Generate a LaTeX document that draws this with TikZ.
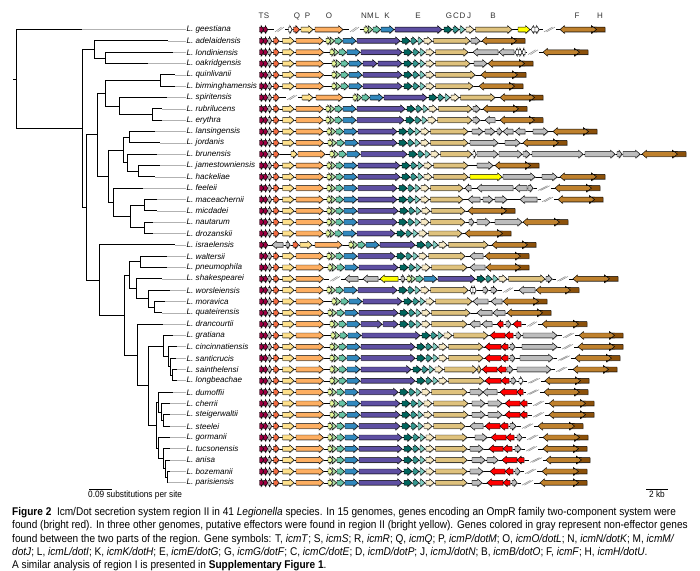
\documentclass[tikz,border=0pt]{standalone}
\usepackage{fontspec}
\setmainfont{Liberation Sans}
\newfontfamily\capfont[FakeStretch=0.9]{Liberation Sans}
\definecolor{cT}{HTML}{9E0142}
\definecolor{cR}{HTML}{BDBDBD}
\definecolor{cQ}{HTML}{F46D43}
\definecolor{cP}{HTML}{FEE08B}
\definecolor{cO}{HTML}{FDAE61}
\definecolor{cN}{HTML}{E6F598}
\definecolor{cM}{HTML}{ABDDA4}
\definecolor{cL}{HTML}{66C2A5}
\definecolor{cK}{HTML}{3288BD}
\definecolor{cE}{HTML}{5E4FA2}
\definecolor{cG}{HTML}{01665E}
\definecolor{cC}{HTML}{35978F}
\definecolor{cD}{HTML}{80CDC1}
\definecolor{cJ}{HTML}{F6E8C3}
\definecolor{cB}{HTML}{DFC27D}
\definecolor{cF}{HTML}{BF812D}
\definecolor{cH}{HTML}{8C510A}
\definecolor{cGr}{HTML}{BDBDBD}
\definecolor{cRed}{HTML}{FF0000}
\definecolor{cYel}{HTML}{FFFF00}
\tikzset{
  gene/.style={draw=black, line width=0.45pt, line join=miter,
    preaction={fill=black!35, transform canvas={xshift=0.6pt,yshift=-0.6pt}}},
  tree/.style={draw=black, line width=0.7pt},
  ext/.style={draw=black!30, line width=0.5pt},
  lab/.style={anchor=west, inner sep=0.5pt, font=\fontsize{8.1}{9}\selectfont\itshape},
  glab/.style={inner sep=0pt, text=black!80, font=\fontsize{8}{9}\selectfont},
  brkst/.style={draw=black!45, line width=0.5pt},
  bline/.style={draw=black, line width=0.35pt},
  capline/.style={anchor=base west, inner sep=0pt, font=\capfont\fontsize{11.2}{13}\selectfont},
  sbtext/.style={inner sep=0pt, font=\capfont\fontsize{9.2}{10}\selectfont}
}
\newcommand\gR[4]{\pgfmathsetmacro\gx{#3-min(4.5,0.6*(#3-#2))}%
  \path[gene,fill=#4] (#2,#1-2.4) -- (\gx,#1-2.4) -- (\gx,#1-3.9) -- (#3,#1) -- (\gx,#1+3.9) -- (\gx,#1+2.4) -- (#2,#1+2.4) -- cycle;}
\newcommand\gL[4]{\pgfmathsetmacro\gx{#2+min(4.5,0.6*(#3-#2))}%
  \path[gene,fill=#4] (#3,#1-2.4) -- (\gx,#1-2.4) -- (\gx,#1-3.9) -- (#2,#1) -- (\gx,#1+3.9) -- (\gx,#1+2.4) -- (#3,#1+2.4) -- cycle;}
\newcommand\baseln[3]{\draw[bline] (#2,#1) -- (#3,#1);}
\newcommand\brkm[3]{\fill[white] (#2-1,#1-1.2) rectangle (#3+1,#1+1.2);
  \draw[brkst] (#2,#1+2.4) -- (#3-2.5,#1-2.4) (#2+2.5,#1+2.4) -- (#3,#1-2.4);}
\newcommand\leftblk[1]{\gR{#1}{259.5}{263.6}{cT}\gR{#1}{263.6}{267.7}{cT}\gR{#1}{268}{271.6}{cR}%
  \gR{#1}{273.5}{279}{cQ}\gR{#1}{282.5}{294}{cP}\gR{#1}{296}{323.5}{cO}}
\newcommand\tsrq[1]{\gR{#1}{259.5}{263.6}{cT}\gR{#1}{263.6}{267.7}{cT}\gR{#1}{268}{271.6}{cR}\gR{#1}{273.5}{279}{cQ}}
\newcommand\nmlk[2]{\gR{#1}{#2}{#2+4.5}{cN}\gR{#1}{#2+4.5}{#2+8.5}{cM}\gR{#1}{#2+9}{#2+16.5}{cL}\gR{#1}{#2+17}{#2+30}{cK}}
\newcommand\gcdjb[3]{\gR{#1}{#2+2}{#2+10}{cG}\gR{#1}{#2+11}{#2+17}{cC}\gR{#1}{#2+18}{#2+23}{cD}\gR{#1}{#2+24}{#2+32}{cJ}\gR{#1}{#2+33.5}{#3}{cB}}
% y, m, Eend, Bend
\newcommand\midblk[4]{\nmlk{#1}{#2}\gR{#1}{#2+31}{#3}{cE}\gcdjb{#1}{#3}{#4}}
% y, m, Esplit, Eend, Bend
\newcommand\midblkS[5]{\nmlk{#1}{#2}\gR{#1}{#2+31}{#3}{cE}\gR{#1}{#3+1}{#4}{cE}\gcdjb{#1}{#4}{#5}}
\newcommand\fh[3]{\gL{#1}{#2}{#3-8.5}{cF}\gL{#1}{#3-8.5}{#3}{cH}}
\begin{document}
\begin{tikzpicture}[x=1pt,y=-1pt]
\useasboundingbox[fill=white] (0,0) rectangle (700,570);
% ---------------- tree ----------------
\foreach \i/\yy/\ex/\nm in {0/29.5/82/geestiana,1/40.8/168/adelaidensis,2/52.2/173/londiniensis,3/63.5/148/oakridgensis,
 4/74.8/175/quinlivanii,5/86.2/175/birminghamensis,6/97.5/167/spiritensis,7/108.8/162/rubrilucens,8/120.1/162/erythra,
 9/131.5/155/lansingensis,10/142.8/160/jordanis,11/154.1/157/brunensis,12/165.5/160/jamestowniensis,13/176.8/155/hackeliae,
 14/188.1/143/feeleii,15/199.5/157/maceachernii,16/210.8/157/micdadei,17/222.1/153/nautarum,18/233.4/153/drozanskii,
 19/244.8/175/israelensis,20/256.1/167/waltersii,21/267.4/167/pneumophila,22/278.8/162/shakespearei,23/290.1/170/worsleiensis,
 24/301.4/165/moravica,25/312.8/162/quateirensis,26/324.1/163/drancourtii,27/335.4/173/gratiana,28/346.7/177/cincinnatiensis,
 29/358.1/176/santicrucis,30/369.4/177/sainthelensi,31/380.7/177/longbeachae,32/392.1/173/dumoffii,33/403.4/170/cherrii,
 34/414.7/170/steigerwaltii,35/426.1/170/steelei,36/437.4/170/gormanii,37/448.7/170/tucsonensis,38/460.0/170/anisa,
 39/471.4/170/bozemanii,40/482.7/167/parisiensis}{
  \node[lab] (lab\i) at (186,\yy) {L. \nm};
  \coordinate (e\i) at (\ex,\yy);
  \draw[ext] (e\i) -- (lab\i.west);
}
\foreach \n/\xx/\yy in {root/16/79,n1/82/128.4,n2/94/49.4,n2b/105/57.9,n3/86/207.4,n4/97/134.7,n5/105/93.3,n5a/160/80.5,
 n6/119/106,nb/152/114.5,n7/108/176.1,n8/123/149.9,n8a/129/137.1,n8b/127/162.6,n8c/138/171.1,n9/113/202.3,n9a/130/216.4,
 n9b/144/205.1,n9c/144/227.8,n10/99/280,n11/124/315.1,n12/129/275.2,n12a/140/261.8,n13/136/288.7,n14/148/298.6,n15/154/307.1,
 n16/137/354.9,n17/148/385.6,n18/163/346.1,n19/168/356.7,n20/170/366.6,n21/172/375.1,n22/156/425.1,n23/158/402,n24/161/411.9,
 n25/163/420.4,n26/158/448.1,n27/163/458.7,n28/165/468.6,n29/167/477.1}{
  \coordinate (\n) at (\xx,\yy);
}
\coordinate (rootstub) at (13,79);
\draw[tree] (rootstub) -- (root);
\foreach \p/\a/\b in {root/e0/n1,n1/n2/n3,n2/e1/n2b,n2b/e2/e3,n3/n4/n10,n4/n5/n7,n5/n5a/n6,n5a/e4/e5,n6/e6/nb,nb/e7/e8,
 n7/n8/n9,n8/n8a/n8b,n8a/e9/e10,n8b/e11/n8c,n8c/e12/e13,n9/e14/n9a,n9a/n9b/n9c,n9b/e15/e16,n9c/e17/e18,
 n10/e19/n11,n11/n12/n16,n12/n12a/n13,n12a/e20/e21,n13/e22/n14,n14/e23/n15,n15/e24/e25,
 n16/e26/n17,n17/n18/n22,n18/e27/n19,n19/e28/n20,n20/e29/n21,n21/e30/e31,n22/n23/n26,n23/e32/n24,n24/e33/n25,n25/e34/e35,
 n26/e36/n27,n27/e37/n28,n28/e38/n29,n29/e39/e40}{
  \draw[tree] (\p |- \a) -- (\p |- \b);
  \draw[tree] (\p |- \a) -- (\a);
  \draw[tree] (\p |- \b) -- (\b);
}
% scale bars
\coordinate (sb1a) at (89,489); \coordinate (sb1b) at (112,489);
\draw[line width=0.6pt] (sb1a) -- (sb1b);
\node[sbtext, anchor=north west] (sbt1) at (88,491) {0.09 substitutions per site};
\coordinate (sb2a) at (646,489); \coordinate (sb2b) at (668,489);
\draw[line width=0.6pt] (sb2a) -- (sb2b);
\node[sbtext, anchor=north] (sbt2) at (657,491) {2 kb};
% gene letters
\foreach \l/\xx in {T/261,S/266.5,Q/297,P/307.5,O/329,N/364,M/370.5,L/377,K/387,E/418,G/449,C/456,D/462.5,J/469,B/493,F/577,H/600}{
  \node[glab] (gl\l) at (\xx,16) {\l};
}
% ---------------- gene rows ----------------
% 0 geestiana
\baseln{29.5}{259.5}{605}
\gR{29.5}{259.5}{263.6}{cT}\gR{29.5}{263.6}{267.7}{cT}
\gR{29.5}{288.5}{292}{white}\gR{29.5}{293.5}{299.5}{cQ}\gR{29.5}{301}{313}{cP}\gR{29.5}{315}{343}{cO}
\midblk{29.5}{364}{442}{512}
\gR{29.5}{518}{530}{cYel}\gL{29.5}{531}{535}{white}\gR{29.5}{535}{539}{white}
\fh{29.5}{560}{605}
\brkm{29.5}{275}{284}\brkm{29.5}{350}{359}\brkm{29.5}{544}{555}
% 1 adelaidensis
\baseln{40.8}{259.5}{525}
\leftblk{40.8}\midblk{40.8}{326}{400}{470}\gR{40.8}{471}{480}{cGr}\fh{40.8}{482}{525}
% 2 londiniensis
\baseln{52.2}{259.5}{588}
\leftblk{52.2}\midblk{52.2}{330}{402}{468}\gL{52.2}{473}{498}{cGr}\gL{52.2}{499}{514}{cGr}
\gL{52.2}{515}{518.5}{white}\gR{52.2}{518.5}{522}{white}\gL{52.2}{522}{525}{white}
\fh{52.2}{543}{588}\brkm{52.2}{528}{538}
% 3 oakridgensis
\baseln{63.5}{259.5}{533}
\leftblk{63.5}\midblkS{63.5}{332}{377}{402}{470}\gR{63.5}{474}{487}{cGr}\fh{63.5}{488}{533}
% 4 quinlivanii
\baseln{74.8}{259.5}{526}
\leftblk{74.8}\midblk{74.8}{332}{402}{475}\fh{74.8}{481}{526}
% 5 birminghamensis
\baseln{86.2}{259.5}{523}
\leftblk{86.2}\midblk{86.2}{332}{402}{473}\fh{86.2}{479}{523}
% 6 spiritensis
\baseln{97.5}{259.5}{543}
\tsrq{97.5}\gR{97.5}{302}{313}{cP}\gR{97.5}{316}{343}{cO}\midblk{97.5}{353}{427}{495}\fh{97.5}{500}{543}
\brkm{97.5}{287}{297}
% 7 rubrilucens
\baseln{108.8}{259.5}{527}
\leftblk{108.8}\midblk{108.8}{326}{405}{472}\gR{108.8}{473}{480}{cGr}\fh{108.8}{483}{527}
% 8 erythra
\baseln{120.1}{259.5}{543}
\leftblk{120.1}\midblk{120.1}{326}{404}{472}\gR{120.1}{473}{480}{cGr}\gL{120.1}{485}{495}{cGr}\fh{120.1}{500}{543}
% 9 lansingensis
\baseln{131.5}{259.5}{597}
\leftblk{131.5}\midblk{131.5}{327}{397}{468}\gR{131.5}{472}{483}{cGr}\gR{131.5}{485}{495}{cGr}\gR{131.5}{497}{502}{cGr}
\gL{131.5}{503}{513}{cGr}\gL{131.5}{515}{525}{cGr}\gR{131.5}{533}{548}{cGr}\fh{131.5}{553}{597}
% 10 jordanis
\baseln{142.8}{259.5}{567}
\leftblk{142.8}\midblk{142.8}{328}{397}{468}\gR{142.8}{470}{498}{cGr}\gR{142.8}{505}{520}{cGr}\fh{142.8}{523}{567}
% 11 brunensis
\baseln{154.1}{259.5}{686}
\tsrq{154.1}\gR{154.1}{291}{297}{cP}\gR{154.1}{298}{325}{cO}\midblk{154.1}{330}{407}{472}
\gR{154.1}{473}{476}{white}\gR{154.1}{477}{498}{cGr}\gR{154.1}{499}{522}{cGr}\gR{154.1}{523}{530}{cGr}
\gR{154.1}{532}{583}{cGr}\gR{154.1}{585}{615}{cGr}\gR{154.1}{617}{622}{cGr}\gR{154.1}{623}{640}{cGr}\fh{154.1}{642}{686}
% 12 jamestowniensis
\baseln{165.5}{259.5}{539}
\leftblk{165.5}\midblk{165.5}{327}{400}{468}\gR{165.5}{477}{493}{cGr}\fh{165.5}{495}{539}
% 13 hackeliae
\baseln{176.8}{259.5}{605}
\leftblk{176.8}\midblk{176.8}{327}{400}{468}\gR{176.8}{470}{502}{cYel}\gR{176.8}{503}{535}{cGr}\gR{176.8}{542}{557}{cGr}\fh{176.8}{560}{605}
% 14 feeleii
\baseln{188.1}{259.5}{600}
\leftblk{188.1}\midblk{188.1}{327}{397}{463}\gL{188.1}{465}{471}{cGr}\gL{188.1}{477}{513}{cGr}\gL{188.1}{515}{527}{cGr}\gR{188.1}{528}{533}{cGr}
\fh{188.1}{555}{600}\brkm{188.1}{538}{550}
% 15 maceachernii
\baseln{199.5}{259.5}{603}
\leftblk{199.5}\midblk{199.5}{327}{397}{463}\gL{199.5}{468}{480}{cGr}\gR{199.5}{483}{493}{cGr}\gR{199.5}{495}{507}{cGr}\gL{199.5}{520}{537}{cGr}
\fh{199.5}{558}{603}\brkm{199.5}{542}{553}
% 16 micdadei
\baseln{210.8}{259.5}{515}
\leftblk{210.8}\midblk{210.8}{327}{398}{465}\fh{210.8}{468}{515}
% 17 nautarum
\baseln{222.1}{259.5}{568}
\leftblk{222.1}\midblk{222.1}{327}{397}{465}\gR{222.1}{469}{474}{cGr}\gR{222.1}{477}{490}{cGr}\gR{222.1}{495}{522}{cGr}\fh{222.1}{523}{568}
% 18 drozanskii
\baseln{233.4}{259.5}{511}
\leftblk{233.4}\midblk{233.4}{326}{395}{462}\fh{233.4}{465}{511}
% 19 israelensis
\baseln{244.8}{259.5}{536}
\gR{244.8}{259.5}{263.6}{cT}\gR{244.8}{263.6}{267.7}{cT}\gL{244.8}{272}{283}{cGr}\gR{244.8}{286}{290}{cGr}
\gR{244.8}{293}{298.5}{cQ}\gR{244.8}{300}{312}{cP}\gR{244.8}{315}{342}{cO}\midblk{244.8}{349}{415}{488}\fh{244.8}{492}{536}
% 20 waltersii
\baseln{256.1}{259.5}{529}
\leftblk{256.1}\midblk{256.1}{327}{395}{465}\gL{256.1}{470}{483}{cGr}\fh{256.1}{485}{529}
% 21 pneumophila
\baseln{267.4}{259.5}{529}
\leftblk{267.4}\midblk{267.4}{328}{398}{467}\gL{267.4}{470}{485}{cGr}\fh{267.4}{486}{529}
% 22 shakespearei
\baseln{278.8}{259.5}{618}
\leftblk{278.8}\gL{278.8}{345}{358}{cGr}\gL{278.8}{363}{378}{cGr}\gL{278.8}{380}{398}{cYel}\gR{278.8}{401}{405}{cGr}
\midblk{278.8}{407}{475}{545}\gR{278.8}{546}{552}{cGr}\fh{278.8}{573}{618}
\brkm{278.8}{330}{340}\brkm{278.8}{557}{568}
% 23 worsleiensis
\baseln{290.1}{259.5}{579}
\leftblk{290.1}\midblk{290.1}{327}{397}{468}\gL{290.1}{470}{473}{white}\gR{290.1}{473}{476}{white}
\gR{290.1}{483}{488}{cGr}\gR{290.1}{491}{497}{cGr}\gL{290.1}{519}{535}{cGr}\fh{290.1}{536}{579}\brkm{290.1}{503}{513}
% 24 moravica
\baseln{301.4}{259.5}{547}
\leftblk{301.4}\midblk{301.4}{332}{402}{472}\gL{301.4}{473}{488}{cGr}\gL{301.4}{491}{502}{cGr}\fh{301.4}{503}{547}
% 25 quateirensis
\baseln{312.8}{259.5}{551}
\leftblk{312.8}\midblk{312.8}{328}{398}{470}\gL{312.8}{477}{492}{cGr}\gL{312.8}{493}{505}{cGr}\fh{312.8}{507}{551}
% 26 drancourtii
\baseln{324.1}{259.5}{587}
\leftblk{324.1}\midblkS{324.1}{330}{382}{398}{467}\gL{324.1}{470}{480}{cGr}\gL{324.1}{482}{492}{cGr}
\gL{324.1}{497}{503}{cRed}\gR{324.1}{506}{511}{cGr}\gL{324.1}{513}{521}{cRed}\fh{324.1}{542}{587}\brkm{324.1}{527}{537}
% 27 gratiana
\baseln{335.4}{259.5}{623}
\leftblk{335.4}\midblk{335.4}{331}{420}{488}\gL{335.4}{490}{505}{cRed}\gL{335.4}{505}{513}{cRed}\gR{335.4}{516}{521}{cGr}
\gR{335.4}{523}{557}{cGr}\fh{335.4}{579}{623}\brkm{335.4}{563}{574}
% 28 cincinnatiensis
\baseln{346.7}{259.5}{623}
\leftblk{346.7}\midblk{346.7}{330}{415}{483}\gL{346.7}{485}{501}{cRed}\gL{346.7}{501}{508}{cRed}\gR{346.7}{510}{515}{cGr}
\gR{346.7}{522}{557}{cGr}\fh{346.7}{578}{623}\brkm{346.7}{562}{573}
% 29 santicrucis
\baseln{358.1}{259.5}{620}
\leftblk{358.1}\midblk{358.1}{330}{415}{483}\gL{358.1}{485}{501}{cRed}\gL{358.1}{501}{508}{cRed}\gR{358.1}{510}{515}{cGr}
\gR{358.1}{520}{553}{cGr}\fh{358.1}{575}{620}\brkm{358.1}{558}{570}
% 30 sainthelensi
\baseln{369.4}{259.5}{617}
\leftblk{369.4}\midblk{369.4}{330}{411}{477}\gR{369.4}{477.5}{481}{cB}\gL{369.4}{482}{497}{cRed}\gL{369.4}{497}{506}{cRed}
\gR{369.4}{507}{513}{cGr}\gR{369.4}{517}{551}{cGr}\fh{369.4}{573}{617}\brkm{369.4}{556}{567}
% 31 longbeachae
\baseln{380.7}{259.5}{589}
\leftblk{380.7}\midblk{380.7}{330}{415}{484}\gL{380.7}{485}{501}{cRed}\gL{380.7}{501}{509}{cRed}\gR{380.7}{511}{516}{cGr}
\gR{380.7}{519}{523}{white}\fh{380.7}{545}{589}\brkm{380.7}{528}{540}
% 32 dumoffii
\baseln{392.1}{259.5}{588}
\leftblk{392.1}\midblk{392.1}{328}{398}{467}\gR{392.1}{470}{483}{cGr}\gL{392.1}{483}{497}{cGr}\gL{392.1}{500}{517}{cRed}
\gL{392.1}{517}{523}{cRed}\fh{392.1}{544}{588}\brkm{392.1}{527}{539}
% 33 cherrii
\baseln{403.4}{259.5}{594}
\leftblk{403.4}\midblk{403.4}{330}{400}{468}\gR{403.4}{472}{485}{cGr}\gR{403.4}{488}{502}{cGr}\gL{403.4}{505}{520}{cRed}
\gL{403.4}{520}{527}{cRed}\fh{403.4}{549}{594}\brkm{403.4}{533}{544}
% 34 steigerwaltii
\baseln{414.7}{259.5}{594}
\leftblk{414.7}\midblk{414.7}{330}{400}{468}\gR{414.7}{472}{485}{cGr}\gR{414.7}{488}{502}{cGr}\gL{414.7}{505}{520}{cRed}
\gL{414.7}{520}{527}{cRed}\fh{414.7}{549}{594}\brkm{414.7}{533}{544}
% 35 steelei
\baseln{426.1}{259.5}{583}
\leftblk{426.1}\midblk{426.1}{328}{400}{465}\gL{426.1}{470}{483}{cGr}\gL{426.1}{485}{500}{cRed}\gL{426.1}{500}{508}{cRed}
\gR{426.1}{510}{516}{cGr}\fh{426.1}{538}{583}\brkm{426.1}{522}{533}
% 36 gormanii
\baseln{437.4}{259.5}{588}
\leftblk{437.4}\midblk{437.4}{328}{402}{467}\gR{437.4}{475}{487}{cGr}\gL{437.4}{491}{506}{cRed}\gL{437.4}{506}{514}{cRed}
\gR{437.4}{517}{522}{cGr}\fh{437.4}{543}{588}\brkm{437.4}{527}{538}
% 37 tucsonensis
\baseln{448.7}{259.5}{587}
\leftblk{448.7}\midblk{448.7}{328}{402}{467}\gR{448.7}{470}{483}{cGr}\gL{448.7}{489}{503}{cRed}\gL{448.7}{503}{512}{cRed}
\gR{448.7}{515}{521}{cGr}\fh{448.7}{543}{587}\brkm{448.7}{526}{537}
% 38 anisa
\baseln{460.0}{259.5}{590}
\leftblk{460.0}\midblk{460.0}{328}{402}{467}\gR{460.0}{472}{485}{cGr}\gR{460.0}{487}{498}{cGr}\gL{460.0}{502}{517}{cRed}
\gL{460.0}{517}{524}{cRed}\fh{460.0}{546}{590}\brkm{460.0}{530}{542}
% 39 bozemanii
\baseln{471.4}{259.5}{587}
\leftblk{471.4}\midblk{471.4}{328}{402}{467}\gR{471.4}{470}{483}{cGr}\gL{471.4}{490}{505}{cRed}\gL{471.4}{505}{513}{cRed}
\gR{471.4}{515}{520}{cGr}\fh{471.4}{542}{587}\brkm{471.4}{525}{536}
% 40 parisiensis
\baseln{482.7}{259.5}{587}
\leftblk{482.7}\midblk{482.7}{328}{402}{467}\gR{482.7}{472}{482}{cGr}\gL{482.7}{487}{503}{cRed}\gL{482.7}{503}{510}{cRed}
\gR{482.7}{512}{517}{cGr}\fh{482.7}{540}{587}\brkm{482.7}{522}{533}
% ---------------- caption ----------------
\node[capline] (cap1) at (12,515) {{\bfseries Figure 2}\enspace Icm/Dot secretion system region II in 41 \textit{Legionella} species. In 15 genomes, genes encoding an OmpR family two-component system were};
\node[capline] (cap2) at (12,528.5) {found (bright red). In three other genomes, putative effectors were found in region II (bright yellow). Genes colored in gray represent non-effector genes};
\node[capline] (cap3) at (12,542) {found between the two parts of the region. Gene symbols: T, \textit{icmT}; S, \textit{icmS}; R, \textit{icmR}; Q, \textit{icmQ}; P, \textit{icmP/dotM}; O, \textit{icmO/dotL}; N, \textit{icmN/dotK}; M, \textit{icmM/}};
\node[capline] (cap4) at (12,555.5) {\textit{dotJ}; L, \textit{icmL/dotI}; K, \textit{icmK/dotH}; E, \textit{icmE/dotG}; G, \textit{icmG/dotF}; C, \textit{icmC/dotE}; D, \textit{icmD/dotP}; J, \textit{icmJ/dotN}; B, \textit{icmB/dotO}; F, \textit{icmF}; H, \textit{icmH/dotU}.};
\node[capline] (cap5) at (12,568) {A similar analysis of region I is presented in {\bfseries Supplementary Figure 1}.};
\end{tikzpicture}
\end{document}
